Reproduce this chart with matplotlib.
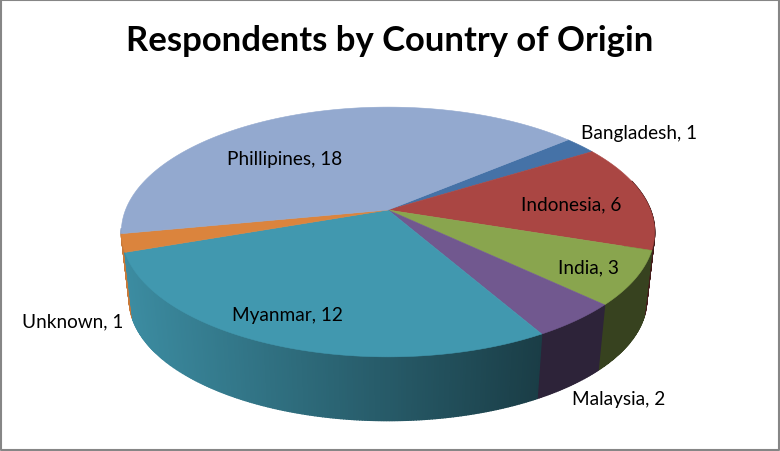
import numpy as np
import matplotlib
matplotlib.use('Agg')
import matplotlib.pyplot as plt
from matplotlib.colors import to_rgb

# Slices, clockwise from the start angle
countries = ['Bangladesh', 'Indonesia', 'India', 'Malaysia', 'Myanmar', 'Unknown', 'Phillipines']
respondents = [1, 6, 3, 2, 12, 1, 18]
colors = ['#4572a7', '#aa4643', '#89a54e', '#71588f', '#4198af', '#db843d', '#93a9cf']
label_pos = [(639, 134), (571, 205), (588, 268), (619, 400), (287, 316), (73, 322), (285, 160)]

START_ANGLE = 49.8
K = 0.176  # perspective strength


def project(theta, cy, a, b):
    # circle on the table -> picture pixels, theta in degrees clockwise from the back
    t = np.radians(theta)
    w = 1 + K * np.cos(t)
    return 388 + a * np.sin(t) / w, cy - b * np.cos(t) / w


def top(theta):
    return project(theta, 211, 262.5, 121)


def bottom(theta):
    return project(theta, 279.5, 254.6, 117.1)


def side_shade(x):
    # side gets darker going left to right, flat after about x=540
    return np.interp(x, [130, 540], [0.92, 0.40])


fig = plt.figure(figsize=(7.8, 4.52), dpi=100)
ax = fig.add_axes([0, 0, 1, 1])
ax.set_xlim(0, 780)
ax.set_ylim(452, 0)
ax.axis('off')

edges = START_ANGLE + np.concatenate([[0], np.cumsum(respondents)]) / sum(respondents) * 360

# side wall first, far pieces before near ones
quads = []
for i, c in enumerate(colors):
    lo, hi = edges[i], edges[i + 1]
    steps = np.linspace(lo, hi, int(hi - lo) * 2 + 2)
    for t0, t1 in zip(steps[:-1], steps[1:]):
        mid = (t0 + t1) / 2
        if np.cos(np.radians(mid)) > -0.15 and np.sin(np.radians(mid)) < 0:
            continue
        if np.cos(np.radians(mid)) > 0.25:
            continue
        quads.append((np.cos(np.radians(mid)), t0, t1, c))

for _, t0, t1, c in sorted(quads, key=lambda q: -q[0]):
    x0, y0 = top(t0)
    x1, y1 = top(t1)
    x2, y2 = bottom(t1)
    x3, y3 = bottom(t0)
    shade = np.array(to_rgb(c)) * side_shade((x0 + x1 + x2 + x3) / 4)
    ax.fill([x0, x1, x2, x3], [y0, y1, y2, y3], color=shade, lw=1.0)

# top of the pie
for i, c in enumerate(colors):
    theta = np.linspace(edges[i], edges[i + 1], 120)
    x, y = top(theta)
    ax.fill(np.r_[388, x], np.r_[211, y], color=c, lw=0.4)

for name, val, (x, y) in zip(countries, respondents, label_pos):
    ax.text(x, y, f'{name}, {val}', ha='center', va='center', family='Lato', fontsize=13.7, color='black')

ax.text(390, 41, 'Respondents by Country of Origin', ha='center', va='center',
        family='Lato', fontweight='bold', fontsize=24.9, color='black')

# chart frame
ax.plot([1, 779, 779, 1, 1], [1, 1, 451, 451, 1], color='#868686', lw=1.5, clip_on=False)

fig.savefig('out.png', dpi=100)
